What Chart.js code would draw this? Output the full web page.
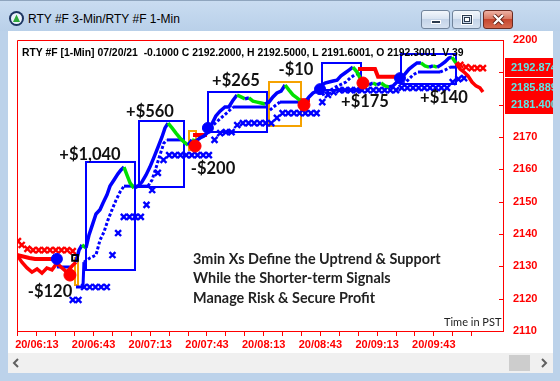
<!DOCTYPE html>
<html><head><meta charset="utf-8">
<script src="https://cdn.jsdelivr.net/npm/chart.js@4.4.1/dist/chart.umd.min.js"></script>
<style>
*{box-sizing:border-box}
html,body{margin:0;padding:0;width:560px;height:381px;overflow:hidden}
body{position:relative;background:#bcd2ea;font-family:"Liberation Sans",Arial,sans-serif}
.abs{position:absolute}
#titlebar{left:0;top:0;width:560px;height:31px;background:linear-gradient(#c9dcf1,#b9d0e9);border-top:1px solid #8fa5be}
#client{left:8px;top:31px;width:545px;height:322px;background:#fff}
#hscroll{left:8px;top:353px;width:545px;height:20px;background:#f0f0f0}
#thumb{left:509px;top:355px;width:21px;height:16px;background:#cdcdcd}
#title{left:28px;top:12px;font-size:12px;line-height:14px;color:#000;white-space:nowrap}
.btn{top:10px;height:19px;border:1px solid #71849b;border-radius:3px;background:linear-gradient(#f3f7fc,#d9e4f1 45%,#c4d4e8 50%,#d6e2f1)}
#bmin{left:421px;width:29px}
#bmax{left:452px;width:29px}
#bclose{left:483px;width:30px;border-color:#6b2a20;background:linear-gradient(#eeb2a4,#d97a63 45%,#c6462e 50%,#d66b50)}
#chart{left:0;top:0;width:560px;height:381px;z-index:2}
.ov{position:absolute;z-index:3;white-space:nowrap}
.pnl{font-family:Lato,"Open Sans",sans-serif;font-weight:700;font-size:16.5px;color:#111;transform:translate(-50%,-50%)}
.note{font-family:Lato,"Open Sans",sans-serif;font-weight:700;font-size:14.4px;color:#222;transform:translateY(-50%)}
#hdr{left:22px;top:46px;width:461px;overflow:hidden;font-weight:700;font-size:10.4px;line-height:13px;color:#000;white-space:pre}
.pbox{position:absolute;z-index:3;left:505px;width:48px;background:#ff0000;color:#5ce8e8;font-weight:700;font-size:11px;padding-left:6px;overflow:hidden;white-space:nowrap}
</style></head>
<body>
<div id="titlebar" class="abs"></div>
<svg class="abs" style="left:8px;top:10px" width="17" height="17" viewBox="0 0 17 17">
 <circle cx="8.5" cy="8.5" r="7.5" fill="#1c3461"/>
 <circle cx="8.5" cy="8.5" r="5.5" fill="#eaf2fb"/>
 <polygon points="8.5,4.5 12,12 5,12" fill="#2fa83a"/>
</svg>
<div id="title" class="abs">RTY #F 3-Min/RTY #F 1-Min</div>
<div id="bmin" class="abs btn"><div class="abs" style="left:9px;top:9px;width:10px;height:4px;background:#2b3a4d;border:1px solid #fff"></div></div>
<div id="bmax" class="abs btn"><div class="abs" style="left:9px;top:4px;width:10px;height:9px;border:1px solid #2b3a4d;box-shadow:0 0 0 1px #fff"><div class="abs" style="left:1px;top:1px;width:6px;height:5px;border:1px solid #2b3a4d;background:#fff"></div></div></div>
<div id="bclose" class="abs btn">
 <svg class="abs" style="left:8px;top:3px" width="13" height="11" viewBox="0 0 13 11">
  <path d="M2,1 L11,10 M11,1 L2,10" stroke="#5a1d14" stroke-width="4"/>
  <path d="M2,1 L11,10 M11,1 L2,10" stroke="#fff" stroke-width="2.4"/>
 </svg>
</div>
<div id="client" class="abs"></div>
<div id="hscroll" class="abs"></div>
<div id="thumb" class="abs"></div>
<svg class="abs" style="left:12px;top:358px" width="8" height="10"><polyline points="6,1 2,5 6,9" fill="none" stroke="#606060" stroke-width="2"/></svg>
<svg class="abs" style="left:540px;top:358px" width="8" height="10"><polyline points="2,1 6,5 2,9" fill="none" stroke="#606060" stroke-width="2"/></svg>

<canvas id="chart" class="abs" width="560" height="381"></canvas>

<div id="hdr" class="ov">RTY #F [1-Min] 07/20/21  -0.1000 C 2192.2000, H 2192.5000, L 2191.6001, O 2192.3001  V 39</div>
<div class="ov note" style="left:193px;top:258px">3min Xs Define the Uptrend &amp; Support</div>
<div class="ov note" style="left:193px;top:277px">While the Shorter-term Signals</div>
<div class="ov note" style="left:193px;top:297px">Manage Risk &amp; Secure Profit</div>
<div class="ov" style="left:444px;top:315px;font-family:Lato,sans-serif;font-size:11px;color:#222">Time in PST</div>
<div id="labels"></div>
<div id="pboxes"></div>

<script>
// ---- data (minutes after 06:00 on the 20th, RTY price) ----
const tickMinutes = [3,13,23,33,43,53,63,73,83,93,103,113,123,133,143,153,163,173,183,193,203,213,223,233,243];

const priceT = [2.5,5.1,7.8,10.4,13.1,15.7,18.3,21.0,23.6,26.3,
 28.9,31.6,33.7,35.3,36.9,39.0,40.6,42.2,44.3,46.4,
 48.0,50.1,51.7,53.8,55.9,57.5,59.1,60.7,62.3,64.4,
 66.5,68.6,70.7,72.8,75.0,77.1,79.2,80.8,82.4,84.5,
 86.6,88.7,90.8,93.0,95.1,97.2,99.3,101.4,103.5,105.6,
 107.7,109.9,112.5,114.6,116.8,118.9,121.0,123.1,125.2,127.3,
 129.5,131.6,133.7,135.8,137.9,140.0,142.2,144.3,146.4,148.5,
 150.6,152.7,154.9,157.0,159.1,161.2,163.3,165.4,167.6,169.7,
 171.8,173.9,176.0,178.1,180.2,182.4,184.5,186.6,188.7,190.8,
 192.9,195.1,197.2,199.3,201.4,203.5,205.6,207.8,209.9,212.0,
 214.1,216.2,218.3,220.5,222.6,224.7,226.8,228.9,231.0,232.6,
 234.7,236.9,239.0,241.1,243.2,245.3,247.4,249.0];
const priceV = [2133.5,2131.3,2129.5,2128.2,2129.2,2127.9,2129.5,2128.9,2131.0,2129.5,
 2128.2,2130.1,2131.3,2135.0,2136.6,2135.7,2139.7,2142.5,2146.2,2147.5,
 2149.6,2152.1,2154.8,2156.7,2158.6,2159.8,2160.7,2158.2,2155.8,2154.2,
 2154.8,2156.1,2158.2,2160.7,2163.8,2166.9,2170.0,2172.8,2174.3,2172.8,
 2171.2,2169.7,2168.5,2167.5,2169.1,2168.8,2169.7,2170.3,2171.5,2174.0,
 2176.5,2178.0,2179.3,2179.3,2181.4,2183.0,2182.4,2181.8,2182.1,2181.1,
 2180.8,2180.5,2180.2,2180.8,2182.4,2183.6,2184.2,2186.1,2184.5,2183.0,
 2182.1,2181.1,2180.8,2182.4,2183.6,2184.2,2185.8,2186.7,2187.0,2187.3,
 2187.6,2188.9,2189.8,2190.7,2191.6,2190.1,2187.6,2186.4,2186.1,2186.7,
 2186.1,2186.7,2185.8,2185.5,2185.8,2187.0,2188.2,2189.5,2191.0,2192.0,
 2192.9,2192.9,2192.0,2191.6,2192.0,2191.6,2192.3,2193.2,2194.4,2194.7,
 2192.9,2191.0,2190.1,2188.9,2187.0,2185.8,2185.2,2183.9];
const trendFlipT = [34.5, 233.5];   // uptrend between these times

const stopT = [23.6,30.5,31.0,
 33.7,37.4,37.9,41.1,44.3,46.4,48.5,50.6,52.7,54.9,57.0,59.1,66.5,66.9,
 67.6,71.8,73.9,76.0,78.1,80.2,81.8,90.8,91.5,
 104.6,109.9,114.0,116.8,134.7,135.2,
 136.3,139.5,141.6,152.2,153.0,
 163.8,167.0,170.2,173.4,176.5,178.7,181.8,184.0,184.8,
 206.7,209.3,212.0,214.6,226.3,228.9,231.6,234.2];
const stopV = [2129.8,2129.8,null,
 2123.6,2123.6,2131.3,2132.6,2133.5,2138.1,2140.6,2144.3,2147.4,2150.5,2153.0,2154.8,2154.8,null,
 2154.8,2154.8,2156.7,2160.4,2164.4,2168.1,2169.1,2169.1,null,
 2172.8,2175.6,2177.7,2179.3,2179.3,null,
 2178.3,2179.9,2180.8,2180.8,null,
 2183.0,2183.9,2185.2,2186.1,2187.0,2188.2,2189.5,2189.5,null,
 2186.1,2187.6,2189.2,2190.1,2190.1,2190.7,2191.6,2191.6];

const longXT = [32,35,38,41,44,47,50,53,56,59,62,65,68,71,74,77,80,83,86,89,92,95,98,101,104,107,110,113,116,119,122,125,128,131,134,137,140,143,146,149,152,155,158,161,164,167,170,173,176,179,182,185,188,191,194,197,200,203,206,209,212,215,218,221,224,227,230,233,236,239];
const longXV = [2119.6,2119.6,2123.6,2123.6,2123.6,2123.6,2123.6,2133.5,2140.3,2145.3,2145.3,2145.3,2145.3,2149.0,2153.6,2158.9,2162.9,
 2164.4,2164.4,2164.4,2164.4,2164.4,2164.4,2164.4,2164.4,2169.1,2171.2,2171.5,2171.5,2173.7,
 2174.3,2174.3,2174.3,2174.3,2174.3,2174.3,2175.9,2177.4,2177.4,2177.4,2177.4,2177.4,2177.4,2177.4,
 2180.8,2183.0,2183.9,2184.5,2184.5,2184.5,2184.5,2184.5,2184.5,2184.5,2184.5,2184.5,2184.5,2184.5,
 2185.2,2185.2,2185.2,2185.2,2185.2,2185.2,2185.2,2185.2,2185.2,2187.0,2187.9,2188.2];

const shortXT = [3,5,8,11,14,17,20,23,26,29,32,237,240,243,246,249];
const shortXV = [2137.8,2136.6,2135.4,2135.0,2135.0,2135.0,2135.0,2135.0,2135.0,2135.0,2134.7,2192.3,2191.6,2191.3,2191.3,2191.3];

const shortStopT = [2.5,9,12,22.5,23.0, 95.6,103.0,103.5, 151.1,157.5,158.0, 182.9,191.9,193.5,203.5];
const shortStopV = [2133.5,2132.6,2132.3,2132.3,null, 2170.6,2170.6,null, 2181.4,2181.4,null, 2191.0,2191.0,2188.6,2188.6];

const entryT = [23.6,103.5,162.8,205.1];
const entryV = [2132.3,2172.8,2184.8,2188.2];
const exitT = [30.5,96.7,154.3,185.5];
const exitV = [2127.3,2167.2,2179.9,2186.7];
const orderT = [33.2];
const orderV = [2132.6];

const tradePnL = [-120,1040,560,-200,265,-10,175,140];
const boxT0 = [33.3,39.0,67.0,93.5,103.5,135.8,163.8,205.6];
const boxT1 = [34.8,64.9,90.8,97.2,134.7,152.7,184.5,234.7];
const boxHi = [2132.6,2162.3,2174.9,2171.9,2183.9,2187.0,2192.9,2195.7];
const boxLo = [2124.2,2128.9,2154.5,2166.0,2171.5,2173.4,2184.5,2186.4];

const lastPrices = ['2192.874','2185.889','2181.400'];

// ---- layout / style ----
const BLUE='#0000ff', GREEN='#00e000', RED='#ff0000', ORANGE='#f5a200';
const labelPos = [[50,291],[90,154],[150,111],[213,168],[236,80],[296,69],[365,101],[444,97]];

function pts(ts, vs){ return ts.map((t,i)=>({x:t, y:vs[i]})); }
function pad(n){ return (n<10?'0':'')+n; }
function fmtPnL(v){ return (v<0?'-':'+')+'$'+Math.abs(v).toLocaleString('en-US'); }

const framePlugin = {
  id:'frame',
  beforeDatasetsDraw(chart){
    const {ctx, scales:{x,y}} = chart;
    ctx.save();
    ctx.lineWidth = 2;
    for(let i=0;i<tradePnL.length;i++){
      const x0=Math.round(x.getPixelForValue(boxT0[i])), x1=Math.round(x.getPixelForValue(boxT1[i]));
      const y0=Math.round(y.getPixelForValue(boxHi[i])), y1=Math.round(y.getPixelForValue(boxLo[i]));
      ctx.strokeStyle = tradePnL[i]>0 ? BLUE : ORANGE;
      ctx.strokeRect(x0,y0,x1-x0,y1-y0);
    }
    ctx.restore();
  },
  afterDraw(chart){
    const {ctx, chartArea:a, scales:{y}} = chart;
    ctx.save();
    ctx.strokeStyle = RED; ctx.lineWidth = 1;
    ctx.beginPath();
    ctx.moveTo(a.left+0.5, a.bottom); ctx.lineTo(a.left+0.5, a.top+0.5); ctx.lineTo(a.right, a.top+0.5);
    y.ticks.forEach(t=>{ const py=Math.round(y.getPixelForValue(t.value))+0.5; ctx.moveTo(a.right-4,py); ctx.lineTo(a.right,py); });
    ctx.stroke();
    ctx.restore();
  }
};

const tickFont = {family:'"Liberation Sans", Arial, sans-serif', size:11, weight:'bold'};

new Chart(document.getElementById('chart'), {
  type:'line',
  data:{ datasets:[
    {label:'Entry', data:pts(entryT,entryV), showLine:false, pointRadius:5.5, pointBackgroundColor:BLUE, pointBorderColor:BLUE, order:0},
    {label:'Exit', data:pts(exitT,exitV), showLine:false, pointRadius:6, pointBackgroundColor:RED, pointBorderColor:RED, order:0},
    {label:'Order', data:pts(orderT,orderV), showLine:false, pointStyle:'rect', pointRadius:4, pointBorderWidth:2, pointBorderColor:'#000', pointBackgroundColor:'rgba(0,0,0,0)', order:0},
    {label:'Price 1-min', data:pts(priceT,priceV), borderWidth:3.5, pointRadius:0, borderColor:BLUE, order:1,
      segment:{ borderColor: c => {
        const t0=c.p0.parsed.x, t1=c.p1.parsed.x;
        if (t1<=trendFlipT[0] || t0>=trendFlipT[1]) return RED;
        return c.p1.parsed.y < c.p0.parsed.y ? GREEN : BLUE; } }},
    {label:'Short stop 1-min', data:pts(shortStopT,shortStopV), borderColor:RED, borderWidth:4, pointRadius:0, spanGaps:false, order:2},
    {label:'Long stop 1-min', data:pts(stopT,stopV), borderColor:BLUE, borderWidth:3, pointRadius:0, spanGaps:false, order:2,
      segment:{ borderDash: c => (c.p1.parsed.y > c.p0.parsed.y + 0.3 && c.p1.parsed.x - c.p0.parsed.x > 1) ? [3,2] : undefined }},
    {label:'3-min X long', data:pts(longXT,longXV), showLine:false, pointStyle:'crossRot', pointRadius:4.2, pointBorderWidth:2.4, pointBorderColor:BLUE, order:3},
    {label:'3-min X short', data:pts(shortXT,shortXV), showLine:false, pointStyle:'crossRot', pointRadius:4.2, pointBorderWidth:2.4, pointBorderColor:RED, order:3}
  ]},
  options:{
    responsive:false, animation:false, devicePixelRatio:1, events:[],
    layout:{padding:{left:17, top:40, right:0, bottom:0}},
    elements:{line:{tension:0}},
    plugins:{legend:{display:false}, tooltip:{enabled:false}},
    scales:{
      x:{ type:'linear', position:'bottom', min:2.5, max:259.6,
        afterBuildTicks: s => { s.ticks = tickMinutes.map(v=>({value:v})); },
        afterFit: s => { s.height = 50; },
        ticks:{ autoSkip:false, maxRotation:0, color:RED, font:tickFont, padding:2,
          callback: v => ((v-13)%30===0) ? '20/'+pad(6+Math.floor(v/60))+':'+pad(v%60) : '' },
        grid:{ drawOnChartArea:false, tickLength:5, color:RED },
        border:{ color:RED, width:1 } },
      y:{ position:'right', min:2110, max:2200,
        afterFit: s => { s.width = 57; },
        ticks:{ stepSize:10, color:RED, font:tickFont, padding:10, callback: v => String(v) },
        grid:{ drawOnChartArea:false, drawTicks:false, color:RED },
        border:{ color:RED, width:1 } }
    }
  },
  plugins:[framePlugin]
});

// P&L annotations
const lab = document.getElementById('labels');
tradePnL.forEach((v,i)=>{
  const d=document.createElement('div'); d.className='ov pnl';
  d.style.left=labelPos[i][0]+'px'; d.style.top=labelPos[i][1]+'px';
  d.textContent=fmtPnL(v); lab.appendChild(d);
});
// last-price boxes
const pb=document.getElementById('pboxes');
const b1=document.createElement('div'); b1.className='pbox'; b1.style.top='58px'; b1.style.height='19px'; b1.style.lineHeight='19px'; b1.textContent=lastPrices[0]; pb.appendChild(b1);
const b2=document.createElement('div'); b2.className='pbox'; b2.style.top='78px'; b2.style.height='36px'; b2.style.lineHeight='17px'; b2.style.paddingTop='1px';
[lastPrices[1],lastPrices[2]].forEach(s=>{const l=document.createElement('div'); l.textContent=s; b2.appendChild(l);}); pb.appendChild(b2);
</script>
</body></html>
